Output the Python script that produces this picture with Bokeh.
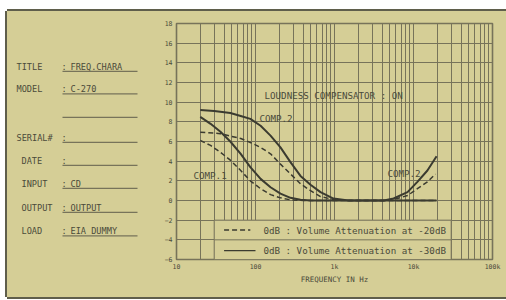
import math
from bokeh.plotting import figure
from bokeh.layouts import row
from bokeh.models import Range1d, FixedTicker, Label
from bokeh.core.properties import value
from bokeh.embed import file_html
from bokeh.resources import INLINE

# ---------------- data ----------------
form_fields = ["TITLE", "MODEL", "", "SERIAL#", "DATE", "INPUT", "OUTPUT", "LOAD"]
form_values = ["FREQ.CHARA", "C-270", "", "", "", "CD", "OUTPUT", "EIA DUMMY"]

y_ticks = [-6, -4, -2, 0, 2, 4, 6, 8, 10, 12, 14, 16, 18]
x_ticks = [10, 100, 1000, 10000, 100000]
x_tick_labels = ["10", "100", "1k", "10k", "100k"]

# COMP.2, volume attenuation -30 dB (solid)
freq_c2_30 = [20, 30, 48, 65, 86, 116, 155, 207, 277, 371, 497, 665, 970, 1500,
              4200, 5600, 8400, 11200, 15000, 19600]
db_c2_30 = [9.2, 9.1, 8.9, 8.6, 8.3, 7.6, 6.6, 5.4, 3.9, 2.5, 1.6, 0.85, 0.2, 0.0,
            0.0, 0.2, 0.85, 1.9, 3.05, 4.5]

# COMP.1, volume attenuation -30 dB (solid)
freq_c1_30 = [20, 27, 36, 48, 65, 86, 116, 155, 207, 277, 371, 500, 19600]
db_c1_30 = [8.5, 7.8, 7.0, 6.0, 4.75, 3.4, 2.2, 1.35, 0.7, 0.27, 0.07, 0.0, 0.0]

# COMP.2, volume attenuation -20 dB (dashed)
freq_c2_20 = [20, 36, 65, 86, 116, 155, 207, 277, 371, 497, 665, 970, 1500,
              4500, 6200, 8400, 11200, 15000, 19000]
db_c2_20 = [6.95, 6.8, 6.3, 5.9, 5.4, 4.75, 3.7, 2.7, 1.7, 1.0, 0.4, 0.1, 0.0,
            0.0, 0.2, 0.5, 1.2, 1.9, 2.7]

# COMP.1, volume attenuation -20 dB (dashed)
freq_c1_20 = [20, 27, 36, 48, 65, 86, 116, 155, 207, 277, 400, 19600]
db_c1_20 = [6.1, 5.6, 4.9, 4.1, 3.05, 2.0, 1.2, 0.6, 0.27, 0.07, 0.0, 0.0]

legend_texts = ["0dB : Volume Attenuation at -20dB",
                "0dB : Volume Attenuation at -30dB"]

# ---------------- style ----------------
BG = "#d5ce96"
GRID = "#77735a"
INK = "#4a4a3a"
CURVE = "#3b3b30"
EDGE = "#5f5e4b"
FONT = "DejaVu Sans Mono"

CARD_X, CARD_Y = 7, 11          # card offset on the page
CARD_H = 286
LEFT_W, RIGHT_W = 138, 361

# ---------------- left form panel ----------------
pf = figure(width=LEFT_W, height=CARD_H, title_location=None,
            x_range=Range1d(CARD_X, CARD_X + LEFT_W),
            y_range=Range1d(CARD_Y + CARD_H, CARD_Y),
            toolbar_location=None, output_backend="svg",
            x_axis_location=None, y_axis_location=None,
            min_border=0, min_border_left=0, min_border_right=0,
            min_border_top=0, min_border_bottom=0, frame_align=False,
            outline_line_color=None, background_fill_color=BG,
            border_fill_color=BG)
pf.grid.visible = False

row_y = [66, 88.5, 112, 137, 160, 183, 207, 230.5]
label_x = [16, 16, 16, 16, 21, 21, 21, 21]
colon_x, value_x, line_x0, line_x1 = 61, 70, 62, 137

lx, ly, lt = [], [], []
for i, f in enumerate(form_fields):
    if f:
        lx.append(label_x[i]); ly.append(row_y[i]); lt.append(f)
        lx.append(colon_x); ly.append(row_y[i]); lt.append(":")
    if form_values[i]:
        lx.append(value_x); ly.append(row_y[i]); lt.append(form_values[i])
pf.text(x=lx, y=ly, text=lt, text_font=value(FONT), text_font_size="8.6px",
        text_baseline="middle", text_align="left", text_color=INK)
pf.segment(x0=[line_x0] * len(row_y), x1=[line_x1] * len(row_y),
           y0=[y + 4.8 for y in row_y], y1=[y + 4.8 for y in row_y],
           line_color=GRID, line_width=1.2)

# ---------------- chart ----------------
p = figure(width=RIGHT_W, height=CARD_H, x_axis_type="log", title_location=None,
           x_range=Range1d(10, 100000), y_range=Range1d(-6, 18),
           toolbar_location=None, output_backend="svg", frame_align=False,
           min_border_left=31, min_border_right=14, min_border_top=12, min_border_bottom=38,
           background_fill_color=BG, border_fill_color=BG,
           outline_line_color=GRID, outline_line_width=1.6)

minor = [m * 10 ** k for k in range(1, 5) for m in range(2, 10)]
p.xaxis.ticker = FixedTicker(ticks=x_ticks, minor_ticks=minor)
p.xaxis.major_label_overrides = dict(zip(x_ticks, x_tick_labels))
p.yaxis.ticker = FixedTicker(ticks=y_ticks)
for ax in (p.xaxis, p.yaxis):
    ax.axis_line_color = None
    ax.major_tick_line_color = None
    ax.minor_tick_line_color = None
    ax.major_tick_out = 0
    ax.minor_tick_out = 0
    ax.major_label_text_font = FONT
    ax.major_label_text_font_size = "6.5px"
    ax.major_label_text_color = INK
    ax.major_label_standoff = 4
p.xaxis.major_label_standoff = 3
p.xaxis.axis_label = "FREQUENCY IN Hz"
p.xaxis.axis_label_text_font = FONT
p.xaxis.axis_label_text_font_size = "7.5px"
p.xaxis.axis_label_text_font_style = "normal"
p.xaxis.axis_label_text_color = INK
p.xaxis.axis_label_standoff = 1

p.xgrid.grid_line_color = GRID
p.xgrid.minor_grid_line_color = GRID
p.ygrid.grid_line_color = GRID
p.xgrid.grid_line_width = 1
p.xgrid.minor_grid_line_width = 1
p.ygrid.grid_line_width = 1

# legend box (blank area in the grid)
p.quad(left=[30], right=[30000], bottom=[-6], top=[-2],
       fill_color=BG, line_color=GRID, line_width=1)
p.line([30, 30000], [-4, -4], line_color=GRID, line_width=1)

# curves
p.line(freq_c2_20, db_c2_20, line_color=CURVE, line_width=1.5, line_dash="5 3")
p.line(freq_c1_20, db_c1_20, line_color=CURVE, line_width=1.5, line_dash="5 3")
p.line(freq_c2_30, db_c2_30, line_color=CURVE, line_width=2)
p.line(freq_c1_30, db_c1_30, line_color=CURVE, line_width=2)

# legend samples and texts
p.line([40, 86], [-3, -3], line_color=CURVE, line_width=1.3, line_dash="5 3")
p.line([40, 100], [-5.1, -5.1], line_color=CURVE, line_width=1.3)
p.text(x=[126, 126], y=[-3, -5.1], text=legend_texts, text_font=value(FONT),
       text_font_size="9.2px", text_baseline="middle", text_color=INK)

# annotations
p.text(x=[130, 112, 16.4, 4670], y=[10.7, 8.35, 2.55, 2.75],
       text=["LOUDNESS COMPENSATOR : ON", "COMP.2", "COMP.1", "COMP.2"],
       text_font=value(FONT), text_font_size="9.2px", text_baseline="middle",
       text_color=INK)

p.add_layout(Label(x=10 ** (1 - 25 / 79), y=2.8, text="RESPONSE IN dB",
                   angle=math.pi / 2, text_align="center", text_baseline="middle",
                   text_font=FONT, text_font_size="7.3px", text_color=INK))

layout = row(pf, p, margin=(CARD_Y, 0, 0, CARD_X),
             styles={"background-color": BG,
                     "box-shadow": f"-2px 0 0 {EDGE}, 0 -2px 0 {EDGE}, 0 2px 0 {EDGE}"})

open("out.html", "w").write(file_html(layout, INLINE))
